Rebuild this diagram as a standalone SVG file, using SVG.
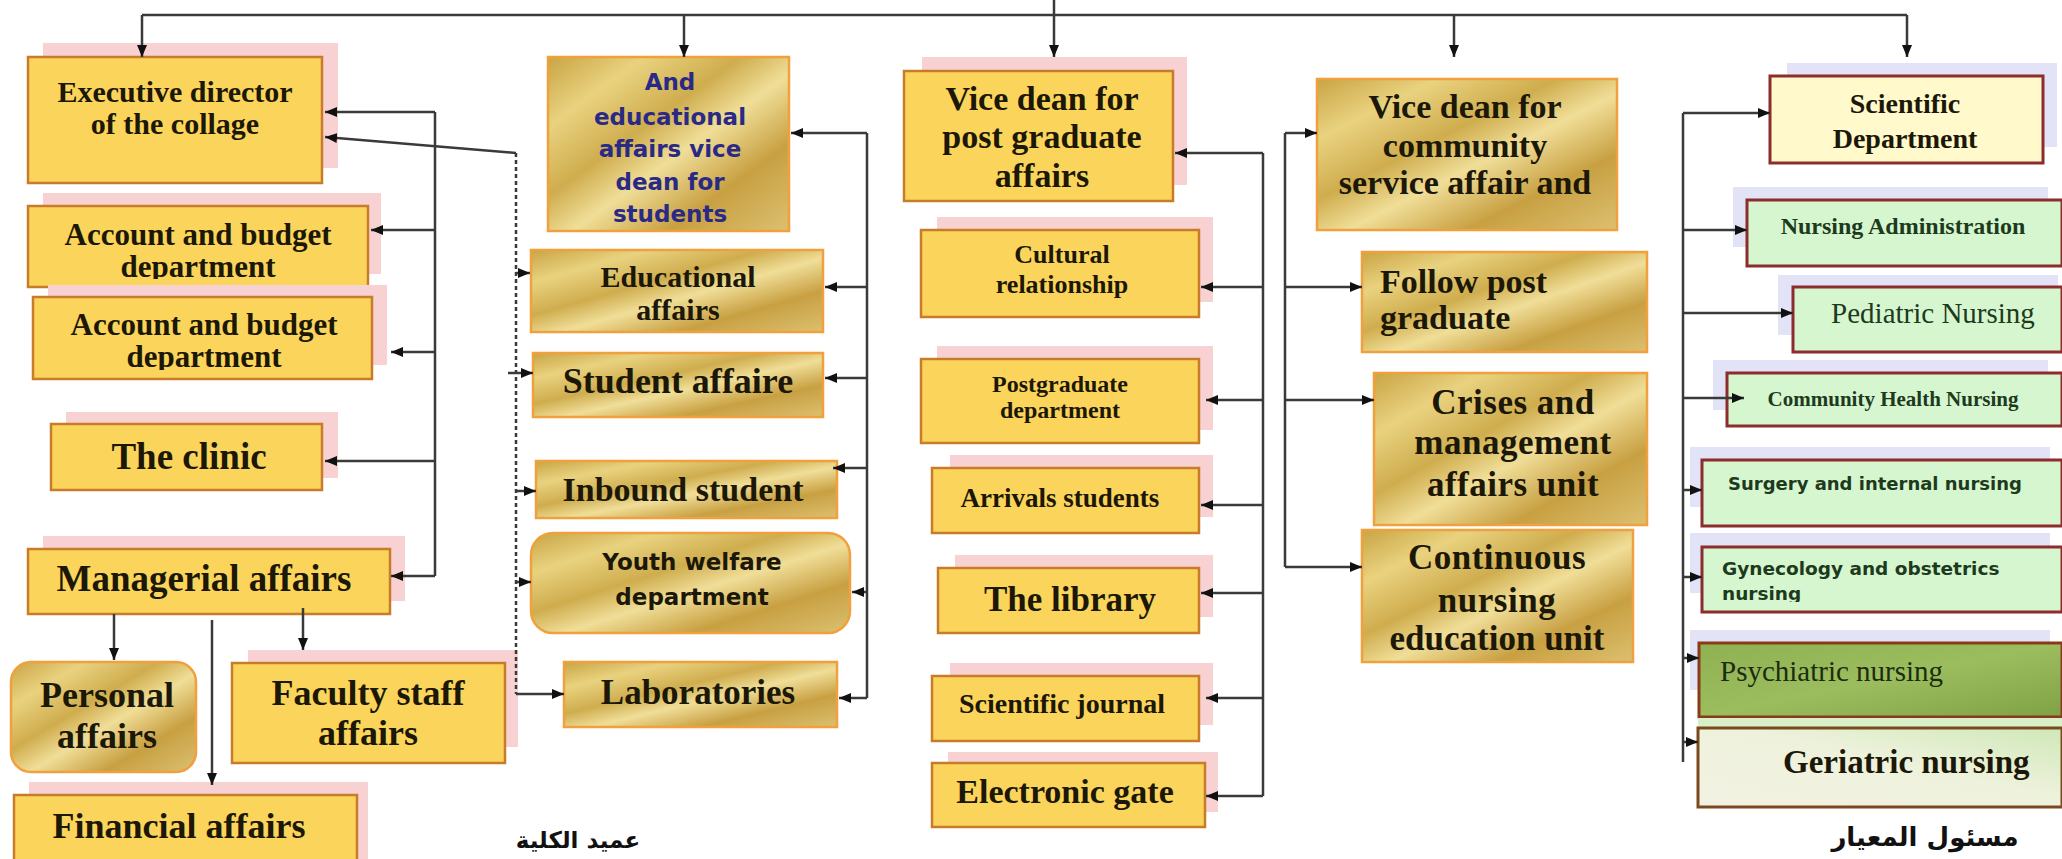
<svg xmlns="http://www.w3.org/2000/svg" width="2062" height="859" viewBox="0 0 2062 859">
<defs>
<linearGradient id="gold" x1="0" y1="0" x2="1" y2="1">
<stop offset="0" stop-color="#c9a444"/>
<stop offset="0.2" stop-color="#e9d27f"/>
<stop offset="0.4" stop-color="#cfad4e"/>
<stop offset="0.55" stop-color="#f0de98"/>
<stop offset="0.75" stop-color="#c8a042"/>
<stop offset="1" stop-color="#dcc070"/>
</linearGradient>
<linearGradient id="psy" x1="0" y1="0" x2="1" y2="1">
<stop offset="0" stop-color="#8fb152"/>
<stop offset="0.5" stop-color="#9cbd5e"/>
<stop offset="1" stop-color="#7fa246"/>
</linearGradient>
<linearGradient id="ger" x1="0" y1="1" x2="1" y2="0">
<stop offset="0" stop-color="#f2f2e2"/>
<stop offset="0.55" stop-color="#eef2dc"/>
<stop offset="1" stop-color="#cfe8b8"/>
</linearGradient>
<marker id="ah" markerUnits="userSpaceOnUse" markerWidth="12" markerHeight="10" refX="12" refY="5" orient="auto">
<path d="M0,0 L12,5 L0,10 z" fill="#111"/>
</marker>
<clipPath id="c1"><rect x="28" y="190" width="345" height="89"/></clipPath>
<clipPath id="c2"><rect x="33" y="290" width="345" height="80"/></clipPath>
<clipPath id="c3"><rect x="548" y="57" width="241" height="167"/></clipPath>
<clipPath id="c4"><rect x="1702" y="547" width="358" height="55"/></clipPath>
<style>
.sh{fill:#f8d2d3}
.lv{fill:#e3e3f7}
.yb{fill:#fbd45b;stroke:#c77b2b;stroke-width:2.5}
.gb{fill:url(#gold);stroke:#f0a03c;stroke-width:2.5}
.grn{fill:#d6f6cf;stroke:#8c2c2c;stroke-width:3}
.t{font-family:"Liberation Serif","Times New Roman",serif;font-weight:bold;fill:#1c1808;text-anchor:middle}
.st{text-anchor:start}
.r{font-family:"Liberation Serif","Times New Roman",serif;fill:#1d3a1d}
.s{font-family:"DejaVu Sans",Verdana,sans-serif;font-weight:bold}
.g{fill:#1d3a1d}
.ln{fill:none;stroke:#3a3a3a;stroke-width:2.5}
.ar{fill:none;stroke:#3a3a3a;stroke-width:2.5;marker-end:url(#ah)}
.dot{fill:none;stroke:#3a3a3a;stroke-width:2.5;stroke-dasharray:4 3}
.ab{font-family:"DejaVu Sans",sans-serif;font-weight:bold;fill:#111;text-anchor:middle}
</style>
</defs>
<rect width="2062" height="859" fill="#fff"/>

<g id="exec">
<rect class="sh" x="43" y="43" width="295" height="125"/>
<rect class="yb" x="28" y="57" width="294" height="126"/>
<text class="t" font-size="30" x="175" y="102">Executive director</text>
<text class="t" font-size="30" x="175" y="134">of the collage</text>
</g>
<g id="account1">
<rect class="sh" x="43" y="193" width="338" height="81"/>
<rect class="yb" x="28" y="206" width="340" height="81"/>
<g clip-path="url(#c1)">
<text class="t" font-size="31" x="198" y="245">Account and budget</text>
<text class="t" font-size="31" x="198" y="277">department</text>
</g>
</g>
<g id="account2">
<rect class="sh" x="48" y="285" width="339" height="80"/>
<rect class="yb" x="33" y="297" width="339" height="82"/>
<g clip-path="url(#c2)">
<text class="t" font-size="31" x="204" y="335">Account and budget</text>
<text class="t" font-size="31" x="204" y="367">department</text>
</g>
</g>
<g id="clinic">
<rect class="sh" x="66" y="412" width="272" height="66"/>
<rect class="yb" x="51" y="424" width="271" height="66"/>
<text class="t" font-size="37" x="189" y="469">The clinic</text>
</g>
<g id="managerial">
<rect class="sh" x="43" y="536" width="362" height="65"/>
<rect class="yb" x="28" y="549" width="362" height="65"/>
<text class="t" font-size="37" x="204" y="591">Managerial affairs</text>
</g>
<g id="personal">
<rect class="gb" x="11" y="662" width="185" height="110" rx="20"/>
<text class="t" font-size="36" x="107" y="707">Personal</text>
<text class="t" font-size="36" x="107" y="748">affairs</text>
</g>
<g id="faculty">
<rect class="sh" x="248" y="650" width="270" height="97"/>
<rect class="yb" x="232" y="663" width="273" height="100"/>
<text class="t" font-size="36" x="368" y="705">Faculty staff</text>
<text class="t" font-size="36" x="368" y="745">affairs</text>
</g>
<g id="financial">
<rect class="sh" x="29" y="782" width="339" height="80"/>
<rect class="yb" x="14" y="795" width="343" height="70"/>
<text class="t" font-size="36" x="179" y="838">Financial affairs</text>
</g>

<g id="vdstudents">
<rect class="gb" x="548" y="57" width="241" height="174"/>
<g clip-path="url(#c3)" class="s" font-size="23" fill="#2a2a86" text-anchor="middle">
<text x="670" y="90">And</text>
<text x="670" y="125">educational</text>
<text x="670" y="157">affairs vice</text>
<text x="670" y="190">dean for</text>
<text x="670" y="222">students</text>
</g>
</g>
<g id="educational">
<rect class="gb" x="531" y="250" width="292" height="82"/>
<text class="t" font-size="30" x="678" y="287">Educational</text>
<text class="t" font-size="30" x="678" y="320">affairs</text>
</g>
<g id="studentaffaire">
<rect class="gb" x="533" y="353" width="290" height="64"/>
<text class="t" font-size="36" x="678" y="393">Student affaire</text>
</g>
<g id="inbound">
<rect class="gb" x="536" y="461" width="301" height="57"/>
<text class="t" font-size="34" x="683" y="501">Inbound student</text>
</g>
<g id="youth">
<rect class="gb" x="531" y="533" width="319" height="100" rx="22"/>
<text class="s" font-size="23" fill="#1c1808" text-anchor="middle" x="692" y="570">Youth welfare</text>
<text class="s" font-size="23" fill="#1c1808" text-anchor="middle" x="692" y="605">department</text>
</g>
<g id="labs">
<rect class="gb" x="564" y="662" width="273" height="65"/>
<text class="t" font-size="35" x="698" y="704">Laboratories</text>
</g>

<g id="vdpost">
<rect class="sh" x="922" y="57" width="265" height="128"/>
<rect class="yb" x="904" y="71" width="269" height="130"/>
<text class="t" font-size="34" x="1042" y="110">Vice dean for</text>
<text class="t" font-size="34" x="1042" y="148">post graduate</text>
<text class="t" font-size="34" x="1042" y="187">affairs</text>
</g>
<g id="cultural">
<rect class="sh" x="937" y="217" width="276" height="85"/>
<rect class="yb" x="921" y="230" width="278" height="87"/>
<text class="t" font-size="26" x="1062" y="263">Cultural</text>
<text class="t" font-size="26" x="1062" y="293">relationship</text>
</g>
<g id="pgdept">
<rect class="sh" x="937" y="346" width="276" height="84"/>
<rect class="yb" x="921" y="359" width="278" height="84"/>
<text class="t" font-size="24" x="1060" y="392">Postgraduate</text>
<text class="t" font-size="24" x="1060" y="418">department</text>
</g>
<g id="arrivals">
<rect class="sh" x="950" y="455" width="263" height="62"/>
<rect class="yb" x="932" y="468" width="267" height="65"/>
<text class="t" font-size="27" x="1060" y="507">Arrivals students</text>
</g>
<g id="library">
<rect class="sh" x="955" y="555" width="258" height="62"/>
<rect class="yb" x="938" y="568" width="261" height="65"/>
<text class="t" font-size="35" x="1070" y="611">The library</text>
</g>
<g id="journal">
<rect class="sh" x="950" y="663" width="263" height="62"/>
<rect class="yb" x="932" y="676" width="267" height="65"/>
<text class="t" font-size="28" x="1062" y="713">Scientific journal</text>
</g>
<g id="egate">
<rect class="sh" x="948" y="752" width="270" height="60"/>
<rect class="yb" x="932" y="763" width="273" height="64"/>
<text class="t" font-size="34" x="1065" y="803">Electronic gate</text>
</g>

<g id="vdcomm">
<rect class="gb" x="1317" y="79" width="300" height="151"/>
<text class="t" font-size="34" x="1465" y="118">Vice dean for</text>
<text class="t" font-size="34" x="1465" y="157">community</text>
<text class="t" font-size="34" x="1465" y="194">service affair and</text>
</g>
<g id="follow">
<rect class="gb" x="1362" y="252" width="285" height="100"/>
<text class="t st" font-size="34" x="1380" y="293">Follow post</text>
<text class="t st" font-size="34" x="1380" y="329">graduate</text>
</g>
<g id="crises">
<rect class="gb" x="1374" y="373" width="273" height="152"/>
<text class="t" font-size="35" x="1513" y="414" letter-spacing="0.5">Crises and</text>
<text class="t" font-size="35" x="1513" y="454" letter-spacing="0.5">management</text>
<text class="t" font-size="35" x="1513" y="496" letter-spacing="0.5">affairs unit</text>
</g>
<g id="continuous">
<rect class="gb" x="1362" y="530" width="271" height="132"/>
<text class="t" font-size="35" x="1497" y="569" letter-spacing="0.5">Continuous</text>
<text class="t" font-size="35" x="1497" y="612" letter-spacing="0.5">nursing</text>
<text class="t" font-size="35" x="1497" y="650">education unit</text>
</g>

<g id="scidept">
<rect class="lv" x="1787" y="63" width="270" height="84"/>
<rect x="1770" y="76" width="273" height="87" fill="#fff9cc" stroke="#8c2c2c" stroke-width="3"/>
<text class="t" font-size="28" x="1905" y="113">Scientific</text>
<text class="t" font-size="28" x="1905" y="148">Department</text>
</g>
<g id="nursadmin">
<rect class="lv" x="1733" y="187" width="315" height="60"/>
<rect class="grn" x="1747" y="200" width="315" height="66"/>
<text class="t g" font-size="24" x="1903" y="234">Nursing Administration</text>
</g>
<g id="pediatric">
<rect class="lv" x="1778" y="275" width="280" height="60"/>
<rect class="grn" x="1793" y="287" width="269" height="65"/>
<text class="r" font-size="29" x="1933" y="323" text-anchor="middle">Pediatric Nursing</text>
</g>
<g id="community">
<rect class="lv" x="1713" y="360" width="335" height="50"/>
<rect class="grn" x="1727" y="373" width="335" height="53"/>
<text class="t g" font-size="21" x="1893" y="406">Community Health Nursing</text>
</g>
<g id="surgery">
<rect class="lv" x="1690" y="447" width="360" height="60"/>
<rect class="grn" x="1702" y="460" width="360" height="66"/>
<text class="s g" font-size="18" x="1728" y="490">Surgery and internal nursing</text>
</g>
<g id="gyn">
<rect class="lv" x="1690" y="533" width="360" height="60"/>
<rect class="grn" x="1702" y="547" width="360" height="65"/>
<g clip-path="url(#c4)" class="s g" font-size="18.5">
<text x="1722" y="575">Gynecology and obstetrics</text>
<text x="1722" y="600">nursing</text>
</g>
</g>
<g id="psych">
<rect class="lv" x="1690" y="630" width="360" height="60"/>
<rect x="1699" y="643" width="363" height="74" fill="url(#psy)" stroke="#8a3a1a" stroke-width="3"/>
<text class="r" font-size="29" x="1720" y="681" style="fill:#1b2d10">Psychiatric nursing</text>
</g>
<g id="geriatric">
<rect x="1698" y="718" width="364" height="12" fill="#d8f0c8"/>
<rect x="1698" y="728" width="364" height="79" fill="url(#ger)" stroke="#7a4a1e" stroke-width="3"/>
<text class="t st" font-size="33" x="1783" y="773">Geriatric nursing</text>
</g>

<g id="labels">
<text class="ab" font-size="23" x="578" y="848">عميد الكلية</text>
<text class="ab" font-size="26" x="1925" y="846">مسئول المعيار</text>
</g>

<g id="connectors">
<path class="ln" d="M142,15 H1907"/>
<path class="ar" d="M1054,0 V57"/>
<path class="ar" d="M142,15 V57"/>
<path class="ar" d="M684,15 V57"/>
<path class="ar" d="M1454,15 V57"/>
<path class="ar" d="M1907,15 V57"/>
<path class="ln" d="M435,112 V576"/>
<path class="ar" d="M435,112 H325"/>
<path class="ar" d="M435,230 H371"/>
<path class="ar" d="M435,352 H391"/>
<path class="ar" d="M435,461 H325"/>
<path class="ar" d="M435,576 H391"/>
<path class="ar" d="M114,614 V660"/>
<path class="ar" d="M212,620 V785"/>
<path class="ar" d="M303,608 V650"/>
<path class="ar" d="M516,153 L325,137"/>
<path class="dot" d="M516,153 V694"/>
<path class="ar" d="M516,273 H530"/>
<path class="ar" d="M508,373 H533"/>
<path class="ar" d="M516,491 H536"/>
<path class="ar" d="M516,582 H531"/>
<path class="ar" d="M516,694 H564"/>
<path class="ln" d="M867,133 V698"/>
<path class="ar" d="M867,133 H791"/>
<path class="ar" d="M867,287 H825"/>
<path class="ar" d="M867,378 H825"/>
<path class="ar" d="M867,468 H833"/>
<path class="ar" d="M867,592 H852"/>
<path class="ar" d="M867,698 H839"/>
<path class="ln" d="M1263,153 V796"/>
<path class="ar" d="M1263,153 H1175"/>
<path class="ar" d="M1263,287 H1201"/>
<path class="ar" d="M1263,400 H1206"/>
<path class="ar" d="M1263,505 H1201"/>
<path class="ar" d="M1263,593 H1201"/>
<path class="ar" d="M1263,698 H1206"/>
<path class="ar" d="M1263,796 H1206"/>
<path class="ln" d="M1285,133 V567"/>
<path class="ar" d="M1285,133 H1317"/>
<path class="ar" d="M1285,287 H1362"/>
<path class="ar" d="M1285,400 H1374"/>
<path class="ar" d="M1285,567 H1362"/>
<path class="ln" d="M1683,113 V762"/>
<path class="ar" d="M1683,113 H1770"/>
<path class="ar" d="M1683,230 H1747"/>
<path class="ar" d="M1683,313 H1793"/>
<path class="ar" d="M1683,398 H1744"/>
<path class="ar" d="M1683,490 H1702"/>
<path class="ar" d="M1683,577 H1702"/>
<path class="ar" d="M1683,658 H1699"/>
<path class="ar" d="M1683,742 H1698"/>
</g>
</svg>
